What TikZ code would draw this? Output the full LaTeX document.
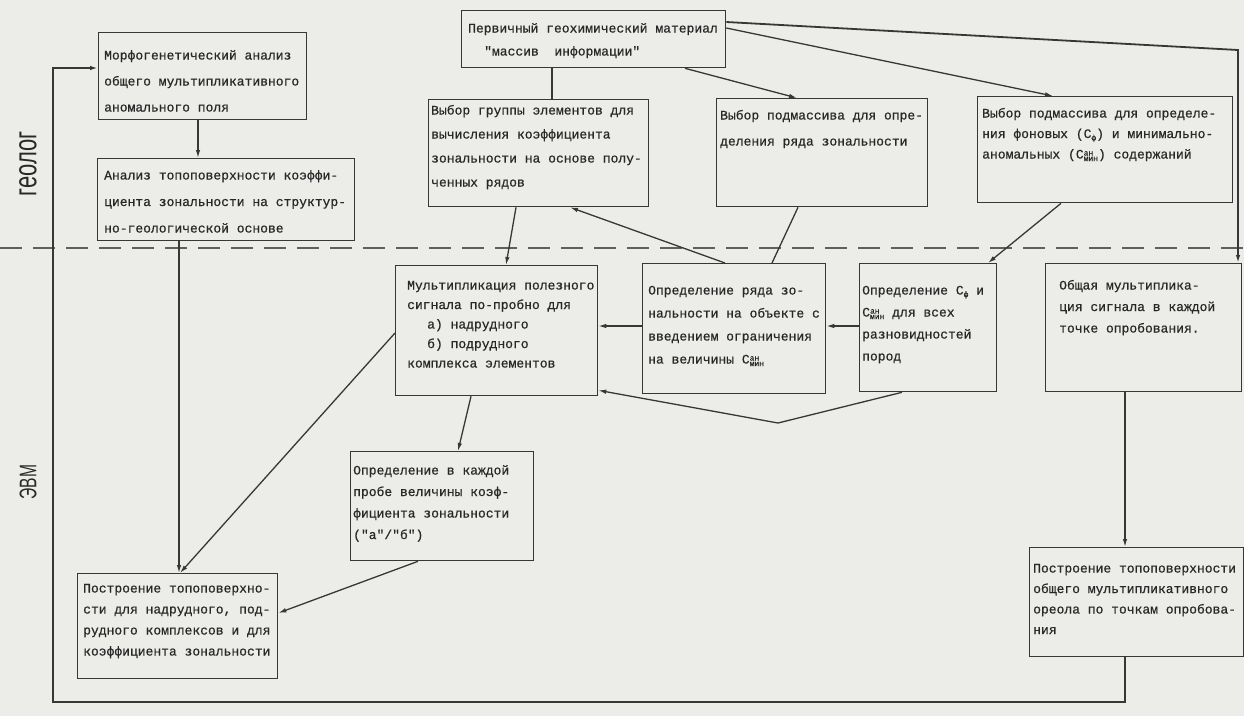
\documentclass[tikz,border=0pt]{standalone}
\usepackage{fontspec}
\setmonofont{Liberation Mono}[FakeBold=0.6]
\setsansfont{Liberation Sans}
\usetikzlibrary{arrows.meta,calc}
\definecolor{paper}{RGB}{236,237,232}
\definecolor{ink}{RGB}{55,55,55}
\definecolor{typeink}{RGB}{40,40,40}
\newcommand\tp{\rule{0pt}{11pt}}
\newcommand\scr[1]{{\fontsize{8}{8}\selectfont #1}}
% index letters of the contents: background and minimal anomalous
\newcommand\Cf{C\raisebox{-2.5pt}{\smash{\scr{ф}}}}
\newcommand\Cmin{C\raisebox{3pt}{\smash{\rlap{\scr{ан}}}}\raisebox{-2.5pt}{\smash{\scr{мин}}}}
\tikzset{
  box/.style={draw=ink, line width=1.3pt, anchor=north west, inner sep=0pt},
  txt/.style={anchor=north west, inner sep=0pt, align=left, text=typeink,
              font=\ttfamily\fontsize{13}{#1}\selectfont},
  txt/.default=21.5,
  link/.style={draw=ink, line width=1.3pt},
  arr/.style={link, -{Latex[length=8pt,width=4.5pt]}},
  divider/.style={draw=ink!80, line width=1.3pt, dash pattern=on 22pt off 11pt},
  side/.style={text=typeink, font=\sffamily\fontsize{22}{22}\selectfont, inner sep=0pt}
}
\begin{document}
\begin{tikzpicture}[x=1pt,y=-1pt]
\fill[paper] (0,0) rectangle (1244,716);
\useasboundingbox (0,0) rectangle (1244,716);

% boundary between the geologist's work and the computer's work
\coordinate (dl) at (0,248);
\coordinate (dr) at (1244,248);
\draw[divider] (dl) -- (dr);

\node[side, rotate=90, yscale=1.45] (geo) at (28,164) {геолог};
\node[side, rotate=90, xscale=0.65, font=\sffamily\fontsize{24}{24}\selectfont] (evm) at (28,482) {ЭВМ};

% boxes
\node[box, minimum width=208pt, minimum height=87pt]  (A) at (98,32) {};
\node[box, minimum width=257pt, minimum height=82pt]  (B) at (97,158) {};
\node[box, minimum width=264pt, minimum height=57pt]  (J) at (461,10) {};
\node[box, minimum width=220pt, minimum height=107pt] (K) at (428,99) {};
\node[box, minimum width=211pt, minimum height=108pt] (L) at (716,98) {};
\node[box, minimum width=255pt, minimum height=106pt] (M) at (977,96) {};
\node[box, minimum width=202pt, minimum height=130pt] (G) at (395,265) {};
\node[box, minimum width=183pt, minimum height=130pt] (F) at (642,263) {};
\node[box, minimum width=137pt, minimum height=128pt] (E) at (859,263) {};
\node[box, minimum width=196pt, minimum height=128pt] (D) at (1045,263) {};
\node[box, minimum width=183pt, minimum height=109pt] (H) at (350,451) {};
\node[box, minimum width=200pt, minimum height=105pt] (I) at (77,573) {};
\node[box, minimum width=214pt, minimum height=109pt] (C) at (1029,547) {};

% box texts
\node[txt=26] (A-t) at (104,48.3) {\tp Морфогенетический анализ\\общего мультипликативного\\аномального поля};
\node[txt=26.5] (B-t) at (104,168.3) {\tp Анализ топоповерхности коэффи-\\циента зональности на структур-\\но-геологической основе};
\node[txt=23] (J-t) at (468,21.3) {\tp Первичный геохимический материал\\\hspace*{16pt}"массив\ \ информации"};
\node[txt=24] (K-t) at (431,103.3) {\tp Выбор группы элементов для\\вычисления коэффициента\\зональности на основе полу-\\ченных рядов};
\node[txt=26] (L-t) at (720,108.3) {\tp Выбор подмассива для опре-\\деления ряда зональности};
\node[txt=20.5] (M-t) at (982,106.3) {\tp Выбор подмассива для определе-\\ния фоновых (\Cf) и минимально-\\аномальных (\Cmin) содержаний};
\node[txt=19.5] (G-t) at (407,278.3) {\tp Мультипликация полезного\\сигнала по-пробно для\\\hspace*{20pt}а) надрудного\\\hspace*{20pt}б) подрудного\\комплекса элементов};
\node[txt=23] (F-t) at (648,283.3) {\tp Определение ряда зо-\\нальности на объекте с\\введением ограничения\\на величины \Cmin};
\node[txt=22] (E-t) at (862,283.3) {\tp Определение \Cf{} и\\\Cmin{} для всех\\разновидностей\\пород};
\node[txt=21.5] (D-t) at (1059,278.3) {\tp Общая мультиплика-\\ция сигнала в каждой\\точке опробования.};
\node[txt=21.5] (H-t) at (353,463.3) {\tp Определение в каждой\\пробе величины коэф-\\фициента зональности\\("а"/"б")};
\node[txt=21] (I-t) at (83,581.3) {\tp Построение топоповерхно-\\сти для надрудного, под-\\рудного комплексов и для\\коэффициента зональности};
\node[txt=20.5] (C-t) at (1033,561.3) {\tp Построение топоповерхности\\общего мультипликативного\\ореола по точкам опробова-\\ния};

% connectors: geologist part
\draw[arr] ([xshift=100pt]A.south west) coordinate (a1) -- (a1 |- B.north);
\draw[arr] ([xshift=82pt]B.south west) coordinate (b1) -- (b1 |- I.north);

% from the primary material
\draw[link] ([xshift=91pt]J.south west) coordinate (j1) -- (j1 |- K.north);
\draw[arr] ([xshift=224pt]J.south west) -- ([xshift=81pt]L.north west);
\draw[arr] ([yshift=-18pt]J.north east) -- ([xshift=76pt]M.north west);
\coordinate (jr) at (1238,50);
\draw[arr, line width=1.8pt] ([yshift=-12pt]J.north east) -- (jr) -- (jr |- D.north);

% selections down to the computer part
\draw[arr] ([xshift=84pt]M.south west) -- ([xshift=129pt]E.north west);
\draw[link] ([xshift=82pt]L.south west) -- ([xshift=130pt]F.north west);
\draw[arr] ([xshift=83pt]F.north west) -- ([xshift=142pt]K.south west);
\draw[arr] ([xshift=88pt]K.south west) -- ([xshift=111pt]G.north west);

% computer part
\draw[arr] ([yshift=-63pt]E.north west) coordinate (e1) -- (e1 -| F.east);
\draw[arr] ([yshift=-63pt]F.north west) coordinate (f1) -- (f1 -| G.east);
\coordinate (v) at (778,423);
\draw[arr] ([xshift=43pt]E.south west) -- (v) -- ([yshift=6pt]G.south east);
\draw[arr] ([xshift=76pt]G.south west) -- ([xshift=108pt]H.north west);
\draw[arr] ([yshift=-68pt]G.north west) -- ([xshift=103pt]I.north west);
\draw[arr] ([xshift=68pt]H.south west) -- ([yshift=-40pt]I.north east);
\draw[arr] ([xshift=80pt]D.south west) coordinate (d1) -- (d1 |- C.north);

% feedback loop back to the morphogenetic analysis
\coordinate (cb) at ([xshift=96pt]C.south west);
\coordinate (lb) at (53,702);
\coordinate (aw) at ([yshift=-36pt]A.north west);
\draw[arr, line width=2pt] (cb) -- (cb |- lb) -- (lb) -- (lb |- aw) -- (aw);
\end{tikzpicture}
\end{document}
